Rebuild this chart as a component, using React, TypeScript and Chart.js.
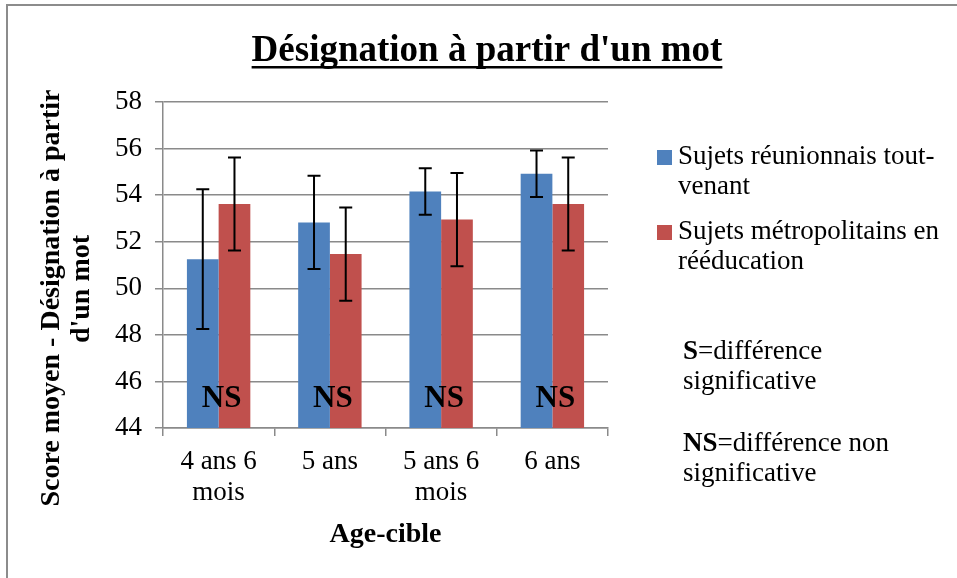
import React, { useEffect, useRef } from "react";
import { Chart, registerables } from "chart.js";

Chart.register(...registerables);

// ---------- data ----------
const categories: (string | string[])[] = [["4 ans 6", "mois"], "5 ans", ["5 ans 6", "mois"], "6 ans"];
const seriesNames = ["Sujets réunionnais tout-venant", "Sujets métropolitains en rééducation"];
const legendLines = [["Sujets réunionnais tout-", "venant"], ["Sujets métropolitains en", "rééducation"]];
const reunionMeans = [51.25, 52.83, 54.16, 54.92];
const reunionErrors = [3.0, 2.0, 1.0, 1.0];
const metroMeans = [53.62, 51.47, 52.95, 53.62];
const metroErrors = [2.0, 2.0, 2.0, 2.0];
const significance = ["NS", "NS", "NS", "NS"];
const yMin = 44;
const yMax = 58;
const yStep = 2;
const chartTitle = "Désignation à partir d'un mot";
const yTitleLines = ["Score moyen - Désignation à partir", "d'un mot"];
const xTitle = "Age-cible";
const notes = [
  { bold: "S", rest: "=différence", second: "significative" },
  { bold: "NS", rest: "=différence non", second: "significative" },
];

const BLUE = "#4F81BD";
const RED = "#C0504D";
const GRID = "#8a8a8a";
const SERIF = '"Liberation Serif", "Times New Roman", serif';

const decorPlugin = {
  id: "decor",
  beforeDraw(chart: any) {
    const ctx = chart.ctx;
    ctx.save();
    ctx.fillStyle = "#ffffff";
    ctx.fillRect(0, 0, chart.width, chart.height);
    ctx.strokeStyle = "#8c8c8c";
    ctx.lineWidth = 2;
    ctx.beginPath();
    ctx.moveTo(7, chart.height);
    ctx.lineTo(7, 5);
    ctx.lineTo(chart.width, 5);
    ctx.stroke();
    ctx.restore();
  },
  afterDatasetsDraw(chart: any) {
    const ctx = chart.ctx;
    const ys = chart.scales.y;
    const xs = chart.scales.x;
    ctx.save();
    // error bars
    ctx.strokeStyle = "#000000";
    ctx.lineWidth = 2;
    chart.data.datasets.forEach((ds: any, i: number) => {
      const meta = chart.getDatasetMeta(i);
      meta.data.forEach((bar: any, j: number) => {
        const v = ds.data[j];
        const e = ds.errors[j];
        const yt = ys.getPixelForValue(v + e);
        const yb = ys.getPixelForValue(v - e);
        const x = bar.x;
        ctx.beginPath();
        ctx.moveTo(x, yt);
        ctx.lineTo(x, yb);
        ctx.moveTo(x - 6.5, yt);
        ctx.lineTo(x + 6.5, yt);
        ctx.moveTo(x - 6.5, yb);
        ctx.lineTo(x + 6.5, yb);
        ctx.stroke();
      });
    });
    // significance labels
    ctx.fillStyle = "#000000";
    ctx.font = `bold 31px ${SERIF}`;
    ctx.textAlign = "center";
    ctx.textBaseline = "middle";
    significance.forEach((s, j) => {
      const x = xs.getPixelForValue(j) + 3;
      const y = ys.getPixelForValue(45.25);
      ctx.fillText(s, x, y);
    });
    ctx.restore();
  },
  afterDraw(chart: any) {
    const ctx = chart.ctx;
    ctx.save();
    ctx.fillStyle = "#000000";
    // title
    ctx.font = `bold 37px ${SERIF}`;
    ctx.textAlign = "center";
    ctx.textBaseline = "alphabetic";
    const tx = 487;
    const ty = 61;
    ctx.fillText(chartTitle, tx, ty);
    const tw = ctx.measureText(chartTitle).width;
    ctx.fillRect(tx - tw / 2, ty + 5, tw, 2.5);
    // y title
    ctx.font = `bold 28px ${SERIF}`;
    ctx.textBaseline = "middle";
    const yPos = [
      [52, 298],
      [82, 289],
    ];
    yTitleLines.forEach((line, k) => {
      ctx.save();
      ctx.translate(yPos[k][0], yPos[k][1]);
      ctx.rotate(-Math.PI / 2);
      ctx.fillText(line, 0, 0);
      ctx.restore();
    });
    // legend
    const colors = chart.data.datasets.map((d: any) => d.backgroundColor);
    const legendY = [157, 232];
    ctx.textAlign = "left";
    ctx.font = `27px ${SERIF}`;
    legendLines.forEach((lines, i) => {
      ctx.fillStyle = colors[i];
      ctx.fillRect(657, legendY[i] - 7, 15, 15);
      ctx.fillStyle = "#000000";
      lines.forEach((l, k) => {
        ctx.fillText(l, 678, legendY[i] + k * 30);
      });
    });
    // notes
    const noteY = [352, 444];
    notes.forEach((n, i) => {
      ctx.font = `bold 27px ${SERIF}`;
      ctx.fillText(n.bold, 683, noteY[i]);
      const bw = ctx.measureText(n.bold).width;
      ctx.font = `27px ${SERIF}`;
      ctx.fillText(n.rest, 683 + bw, noteY[i]);
      ctx.fillText(n.second, 683, noteY[i] + 30);
    });
    ctx.restore();
  },
};

export default function App() {
  const ref = useRef<HTMLCanvasElement | null>(null);
  useEffect(() => {
    document.body.style.margin = "0";
    const canvas = ref.current;
    if (!canvas) return;
    const chart = new Chart(canvas, {
      type: "bar",
      data: {
        labels: categories,
        datasets: [
          {
            label: seriesNames[0],
            data: reunionMeans,
            errors: reunionErrors,
            backgroundColor: BLUE,
            borderWidth: 0,
          } as any,
          {
            label: seriesNames[1],
            data: metroMeans,
            errors: metroErrors,
            backgroundColor: RED,
            borderWidth: 0,
          } as any,
        ],
      },
      options: {
        animation: false,
        responsive: false,
        maintainAspectRatio: false,
        layout: { padding: { left: 0, right: 349, top: 102, bottom: 0 } },
        datasets: { bar: { categoryPercentage: 0.57, barPercentage: 1 } },
        plugins: {
          legend: { display: false },
          title: { display: false },
          tooltip: { enabled: false },
        },
        scales: {
          x: {
            grid: {
              display: true,
              offset: true,
              drawOnChartArea: false,
              drawTicks: true,
              tickLength: 8,
              color: GRID,
              lineWidth: 1.5,
            },
            border: { display: true, color: GRID, width: 1.5 },
            ticks: {
              color: "#000000",
              padding: 10,
              maxRotation: 0,
              autoSkip: false,
              font: { family: SERIF, size: 27, lineHeight: 1.17 },
            },
            title: {
              display: true,
              text: xTitle,
              color: "#000000",
              font: { family: SERIF, size: 28, weight: "bold", lineHeight: 1.2 },
              padding: { top: 0, bottom: 26 },
            },
            afterFit(scale: any) {
              scale.height = 150;
            },
          },
          y: {
            min: yMin,
            max: yMax,
            grid: {
              color: GRID,
              lineWidth: 1.5,
              drawTicks: true,
              tickLength: 8,
            },
            border: { display: true, color: GRID, width: 1.5 },
            ticks: {
              stepSize: yStep,
              color: "#000000",
              padding: 13,
              font: { family: SERIF, size: 27 },
            },
            afterFit(scale: any) {
              scale.width = 163;
            },
          },
        },
      } as any,
      plugins: [decorPlugin],
    });
    return () => chart.destroy();
  }, []);
  return (
    <div style={{ width: 957, height: 578 }}>
      <canvas ref={ref} width={957} height={578} style={{ display: "block", width: 957, height: 578 }} />
    </div>
  );
}
